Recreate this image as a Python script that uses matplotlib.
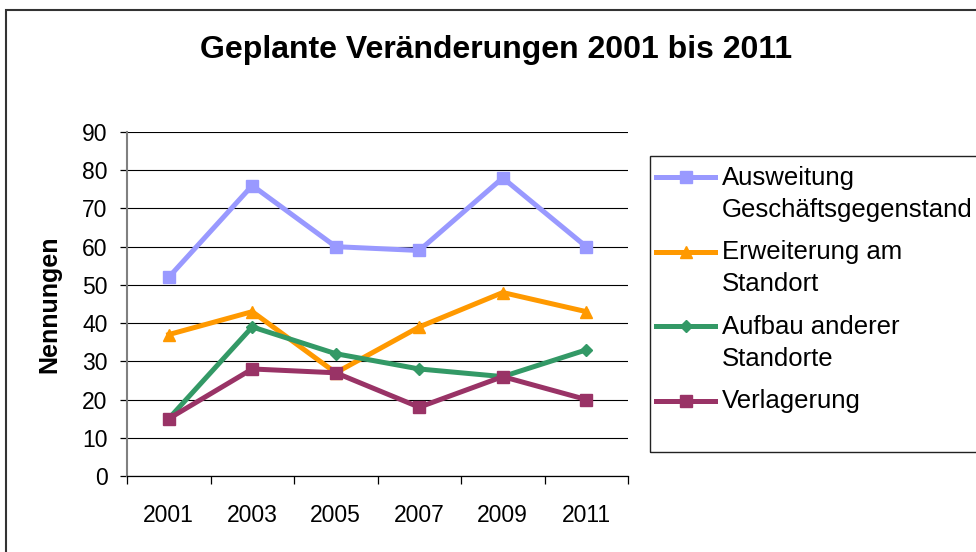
import matplotlib.pyplot as plt
import numpy as np
from matplotlib.patches import Rectangle

# data
years = ["2001", "2003", "2005", "2007", "2009", "2011"]
ausweitung = [52, 76, 60, 59, 78, 60]
erweiterung = [37, 43, 27, 39, 48, 43]
aufbau = [15, 39, 32, 28, 26, 33]
verlagerung = [15, 28, 27, 18, 26, 20]

labels = ["Ausweitung\nGeschäftsgegenstand", "Erweiterung am\nStandort",
          "Aufbau anderer\nStandorte", "Verlagerung"]
colors = ["#9999FF", "#FF9900", "#339966", "#993366"]
markers = ["s", "^", "D", "s"]
msizes = [8, 9, 6.5, 8]

plt.rcParams['font.family'] = ['Liberation Sans', 'DejaVu Sans']

fig = plt.figure(figsize=(9.76, 5.52), dpi=100)
ax = fig.add_axes([127 / 976, 1 - 476 / 552, (628 - 127) / 976, (476 - 132) / 552])

x = np.arange(len(years))
series = [ausweitung, erweiterung, aufbau, verlagerung]
handles = []
for vals, lab, c, m, ms in zip(series, labels, colors, markers, msizes):
    h, = ax.plot(x, vals, color=c, lw=3.6, marker=m, markersize=ms,
                 markeredgecolor=c, label=lab, clip_on=False, zorder=3)
    handles.append(h)

ax.set_xlim(-0.5, len(years) - 0.5)
ax.set_ylim(0, 90)
ax.set_yticks(range(0, 91, 10))
ax.yaxis.grid(True, color='black', lw=0.8)
ax.set_axisbelow(True)

ax.set_xticks(x)
ax.set_xticklabels(years)
ax.set_xticks(np.arange(-0.5, len(years)), minor=True)
ax.tick_params(axis='x', which='major', length=0, pad=20.5, labelsize=16.5)
ax.tick_params(axis='x', which='minor', length=6, width=0.9, color='black', direction='out')
ax.tick_params(axis='y', length=5, width=0.9, color='black', pad=9, labelsize=16.5)

for s in ['top', 'right']:
    ax.spines[s].set_visible(False)
ax.spines['left'].set_color('#808080')
ax.spines['left'].set_linewidth(1.5)
ax.spines['bottom'].set_color('black')
ax.spines['bottom'].set_linewidth(0.9)

ax.set_ylabel("Nennungen", fontsize=18, fontweight='bold')
ax.yaxis.set_label_coords(-0.13, 0.5)

fig.text(496 / 976, 1 - 50 / 552, "Geplante Veränderungen 2001 bis 2011",
         fontsize=23, fontweight='bold', ha='center', va='center')

# legend box and outer chart border (cut by the image edge, like the original)
fig.add_artist(Rectangle((650 / 976, 1 - 452 / 552), 0.5, (452 - 156) / 552,
                         transform=fig.transFigure, fill=False, ec='#222222', lw=1.0))
fig.add_artist(Rectangle((6 / 976, -0.2), 1.2, 1.2 - 10 / 552,
                         transform=fig.transFigure, fill=False, ec='#333333', lw=1.5))

leg = fig.legend(handles=handles, loc='upper left',
                 bbox_to_anchor=(656 / 976, 1 - 166 / 552), frameon=False,
                 fontsize=18.5, handlelength=2.3, handletextpad=0.25,
                 labelspacing=0.72, borderpad=0, borderaxespad=0, handleheight=1.3)
for t in leg.get_texts():
    t.set_linespacing(1.42)
for row in leg._legend_handle_box.get_children()[0].get_children():
    row.align = "top"

fig.savefig("out.png", dpi=100)
